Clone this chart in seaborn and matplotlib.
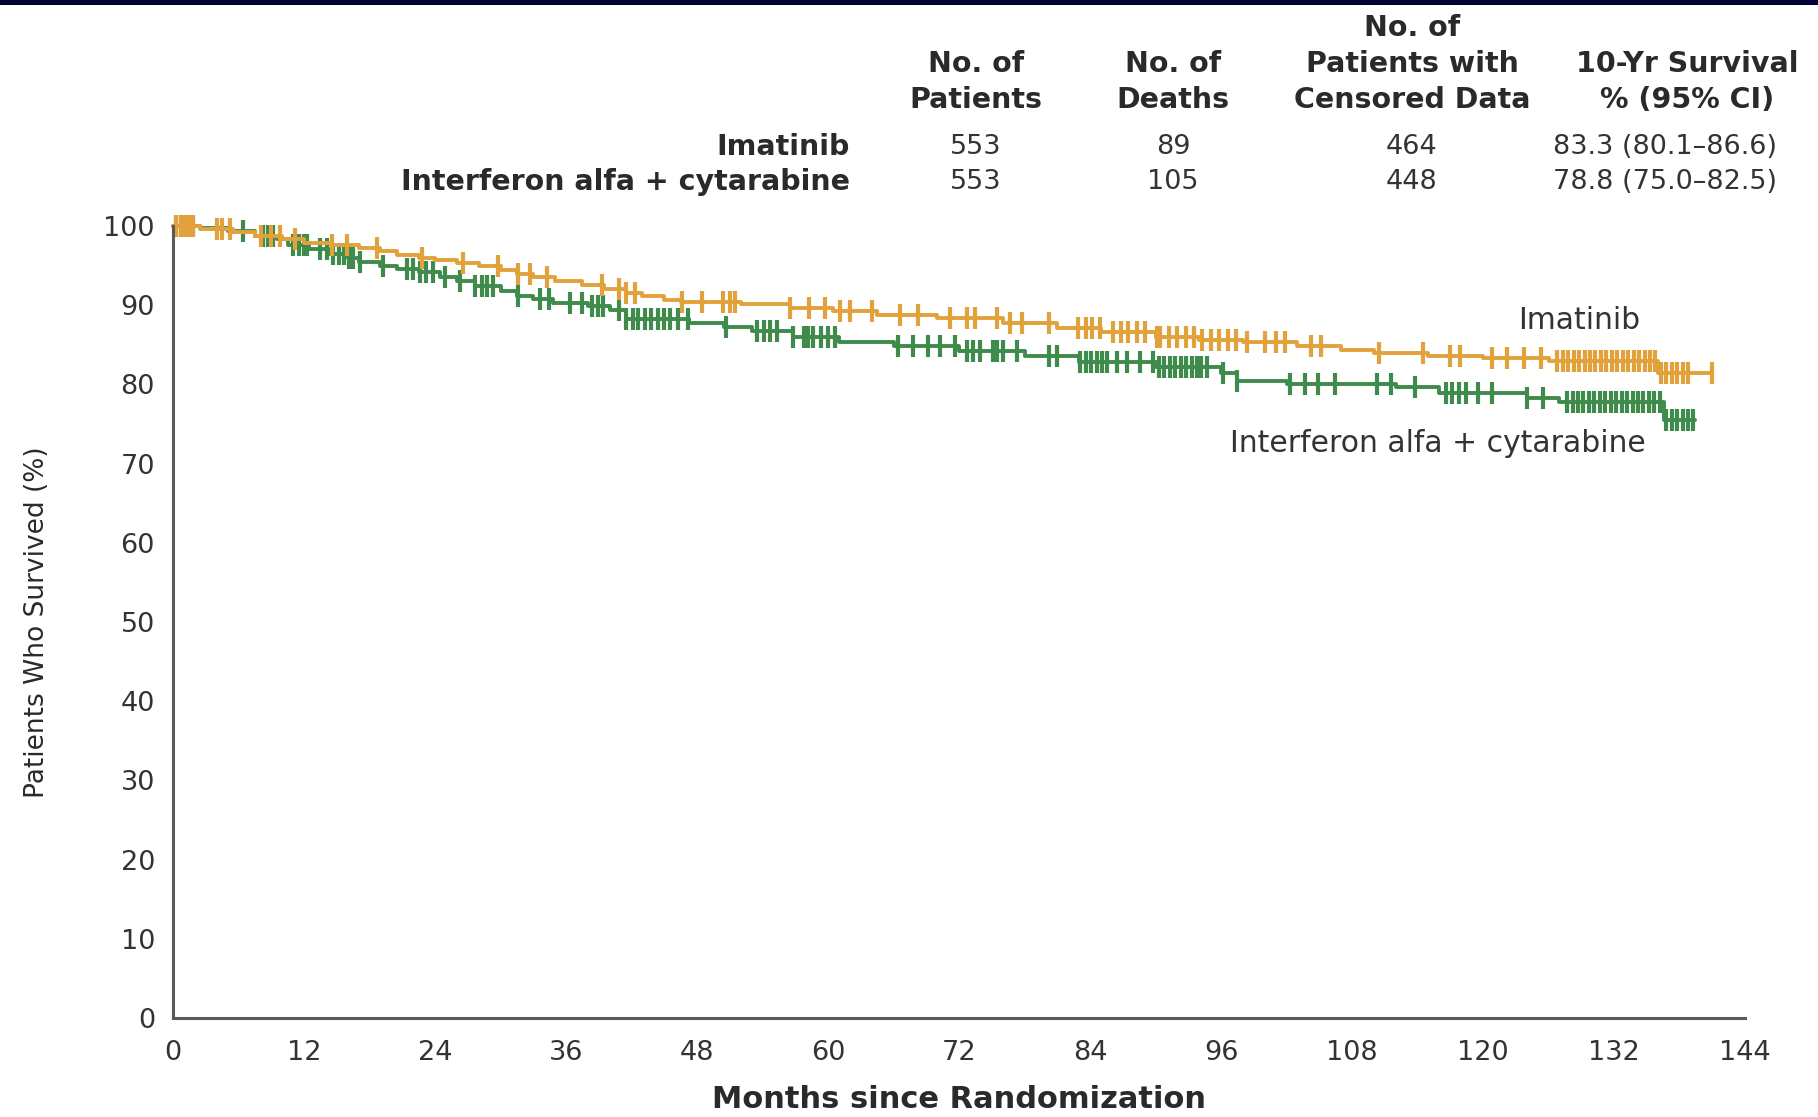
import numpy as np
import pandas as pd
import matplotlib
matplotlib.use("Agg")
import matplotlib.pyplot as plt
import seaborn as sns
from matplotlib.patches import Rectangle

# ---------------- data ----------------
groups = ["Imatinib", "Interferon alfa + cytarabine"]
n_patients = [553, 553]
n_deaths = [89, 105]
n_censored = [464, 448]
surv_10yr = ["83.3 (80.1\u201386.6)", "78.8 (75.0\u201382.5)"]

# Kaplan-Meier step points (month, % surviving from that month on)
ima_t = [0, 2.5, 5.5, 7.5, 10, 12, 14.5, 17, 19, 20.5, 22.5, 24, 26, 28, 30, 31.5, 33, 35, 37.5,
         39.5, 41.5, 43, 45, 46.5, 52, 56.5, 60.5, 64.5, 70, 76, 81, 85, 90, 94, 98, 103, 107,
         110, 115, 120, 126, 136, 141]
ima_s = [100, 99.6, 99.2, 98.7, 98.3, 97.9, 97.6, 97.2, 96.8, 96.4, 96.0, 95.7, 95.3, 94.9, 94.5,
         94.0, 93.6, 93.0, 92.5, 92.0, 91.6, 91.1, 90.7, 90.4, 90.2, 89.7, 89.3, 88.8, 88.4, 87.8,
         87.1, 86.6, 86.0, 85.6, 85.3, 84.8, 84.4, 84.0, 83.6, 83.3, 83.0, 81.5, 81.5]

ifn_t = [0, 2.5, 5, 7.5, 9.5, 10.5, 12.5, 14.3, 16, 17, 19, 20.5, 22.5, 24.5, 26, 27.7, 30, 31.5,
         33, 34.8, 38, 40, 41.5, 47.3, 50.5, 53, 56.8, 61, 66, 72, 78, 83, 90, 96, 97.5, 102, 112,
         116, 124, 127, 136.6, 139.4]
ifn_s = [100, 99.7, 99.4, 98.8, 98.3, 97.6, 97.1, 96.5, 95.9, 95.4, 95.0, 94.6, 94.2, 93.6, 93.0,
         92.4, 91.8, 91.2, 90.8, 90.3, 89.9, 89.4, 88.3, 87.8, 87.2, 86.8, 86.0, 85.3, 84.8, 84.2,
         83.6, 82.8, 82.2, 81.4, 80.4, 80.0, 79.7, 78.9, 78.3, 77.8, 75.5, 75.5]

# censoring times (months)
ima_cens = [0.3, 0.7, 1.1, 1.5, 1.8, 4.0, 4.5, 5.2, 8.1, 9.0, 9.8, 11.2, 14.6, 15.9, 18.7, 22.8,
            26.6, 29.8, 31.6, 32.7, 34.3, 39.3, 40.9, 41.5, 42.3, 46.6, 48.5, 50.4, 51.0, 51.5,
            56.5, 58.3, 59.7, 61.1, 62.0, 64.0, 66.6, 68.2, 71.2, 72.7, 73.5, 75.5, 76.7, 77.8,
            80.2, 82.9, 83.6, 84.2, 84.9, 86.1, 86.8, 87.5, 88.3, 89.0, 90.1, 90.4, 91.2, 92.0,
            92.8, 93.5, 94.3, 95.1, 95.8, 96.6, 97.4, 98.4, 100.0, 101.0, 101.9, 104.2, 105.2,
            110.5, 114.5, 117.0, 117.9, 120.8, 122.2, 123.8, 125.3,
            126.8, 127.3, 127.8, 128.3, 128.8, 129.3, 129.8, 130.3, 130.8, 131.3, 131.8, 132.3,
            132.8, 133.3, 133.8, 134.3, 134.8, 135.3, 135.8,
            136.3, 136.8, 137.3, 137.8, 138.3, 138.8, 141.0]

ifn_cens = [0.3, 0.7, 1.1, 1.5, 1.8, 6.4, 8.2, 8.7, 9.2, 11.0, 11.5, 12.0, 12.3, 13.5, 14.1, 14.7,
            15.2, 15.7, 16.1, 16.5, 17.1, 19.2, 21.4, 22.0, 22.6, 23.2, 23.8, 24.9, 26.3, 27.7,
            28.3, 28.8, 29.3, 31.6, 33.6, 34.4, 36.4, 37.5, 38.4, 38.9, 39.4, 40.9, 41.5, 42.1,
            42.6, 43.2, 43.8, 44.4, 45.0, 45.5, 46.3, 47.2, 50.7, 53.5, 54.1, 54.7, 55.3, 56.8,
            57.8, 58.2, 58.6, 59.4, 60.0, 60.6, 66.4, 67.8, 69.2, 70.3, 71.6, 72.7, 73.3, 73.9,
            75.1, 75.5, 76.0, 77.3, 80.2, 81.0, 83.1, 83.6, 84.1, 84.6, 85.1, 85.6, 86.5, 87.4,
            88.6, 89.8, 90.3, 90.8, 91.3, 91.8, 92.3, 92.8, 93.3, 93.8, 94.2, 94.7, 96.2, 97.5,
            102.3, 103.7, 104.9, 106.4, 110.3, 111.6, 113.8, 116.6, 117.2, 117.8, 118.4, 119.5,
            120.8, 124.0, 125.5,
            127.7, 128.2, 128.7, 129.2, 129.7, 130.2, 130.7, 131.2, 131.7, 132.2, 132.7, 133.2,
            133.7, 134.2, 134.7, 135.2, 135.7, 136.2,
            136.8, 137.3, 137.8, 138.3, 138.8, 139.2]

x_ticks = list(range(0, 145, 12))
y_ticks = list(range(0, 101, 10))

# ---------------- style ----------------
sns.set_theme(style="white")
plt.rcParams["font.family"] = ["DejaVu Sans"]

ORANGE = "#E2A23B"
GREEN = "#3F8B4C"
AXCOL = "#5a5a5a"
TXT = "#2a2a2a"

W, H = 1818, 1117
fig = plt.figure(figsize=(W / 100, H / 100), dpi=100)
fig.patch.set_facecolor("white")
ax = fig.add_axes([173 / W, 99 / H, (1745 - 173) / W, (1018 - 226) / H])


def step_df(t, s, name):
    return pd.DataFrame({"month": t, "surv": s, "group": name})


def cens_df(t, s, c, name):
    t = np.asarray(t, float)
    s = np.asarray(s, float)
    c = np.asarray(c, float)
    idx = np.clip(np.searchsorted(t, c, side="right") - 1, 0, len(s) - 1)
    return pd.DataFrame({"month": c, "surv": s[idx], "group": name})


curves = [(ifn_t, ifn_s, ifn_cens, groups[1], GREEN), (ima_t, ima_s, ima_cens, groups[0], ORANGE)]
for t, s, c, name, col in curves:
    sns.lineplot(data=step_df(t, s, name), x="month", y="surv", ax=ax, color=col,
                 drawstyle="steps-post", estimator=None, sort=False, linewidth=2.8,
                 legend=False, clip_on=False)
    cd = cens_df(t, s, c, name)
    ax.plot(cd["month"], cd["surv"], linestyle="none", marker="|", markersize=16,
            markeredgewidth=3.0, color=col, clip_on=False)

ax.set_xlim(0, 144)
ax.set_ylim(0, 100)
ax.set_xticks(x_ticks)
ax.set_yticks(y_ticks)
ax.set_xticklabels([str(v) for v in x_ticks])
ax.set_yticklabels([str(v) for v in y_ticks])

for side in ["top", "right"]:
    ax.spines[side].set_visible(False)
for side in ["left", "bottom"]:
    ax.spines[side].set_color(AXCOL)
    ax.spines[side].set_linewidth(2.2)

ax.tick_params(axis="both", which="major", direction="out", length=10, width=1.6,
               color=AXCOL, labelsize=19.5, labelcolor="#333333")
ax.tick_params(axis="y", pad=3)
ax.tick_params(axis="x", pad=6)
ax.grid(False)

ax.set_ylabel("Patients Who Survived (%)", fontsize=19, color=TXT)
ax.yaxis.set_label_coords(-0.078, 0.5)
ax.set_xlabel("Months since Randomization", fontsize=22, fontweight="bold", color=TXT)
ax.xaxis.set_label_coords(0.5, -0.084)

# curve labels
ax.text(128.8, 88.1, groups[0], fontsize=21.5, color="#333333", ha="center", va="center")
ax.text(134.9, 72.5, groups[1], fontsize=21.5, color="#333333", ha="right", va="center")

# ---------------- table above the plot ----------------
def ftxt(x, y, s, **kw):
    fig.text(x / W, 1 - y / H, s, **kw)

hdr = dict(fontsize=20.5, fontweight="bold", color=TXT, ha="center", va="center")
col_x = [976, 1173, 1412, 1665]
ftxt(1412, 28, "No. of", **hdr)
ftxt(976, 64, "No. of", **hdr)
ftxt(1173, 64, "No. of", **hdr)
ftxt(1412, 64, "Patients with", **hdr)
ftxt(1687, 64, "10-Yr Survival", **hdr)
ftxt(976, 100, "Patients", **hdr)
ftxt(1173, 100, "Deaths", **hdr)
ftxt(1412, 100, "Censored Data", **hdr)
ftxt(1687, 100, "% (95% CI)", **hdr)

row_y = [147, 182]
val = dict(fontsize=19.5, color="#333333", ha="center", va="center")
for i, g in enumerate(groups):
    ftxt(850, row_y[i], g, fontsize=20.5, fontweight="bold", color=TXT, ha="right", va="center")
    ftxt(col_x[0], row_y[i], str(n_patients[i]), **val)
    ftxt(col_x[1], row_y[i], str(n_deaths[i]), **val)
    ftxt(col_x[2], row_y[i], str(n_censored[i]), **val)
    ftxt(col_x[3], row_y[i], surv_10yr[i], **val)

# dark band at the very top
fig.patches.append(Rectangle((0, 1 - 5 / H), 1, 5 / H, transform=fig.transFigure,
                             facecolor="#000033", edgecolor="none", zorder=10))

fig.savefig("out.png", dpi=100, facecolor="white")
